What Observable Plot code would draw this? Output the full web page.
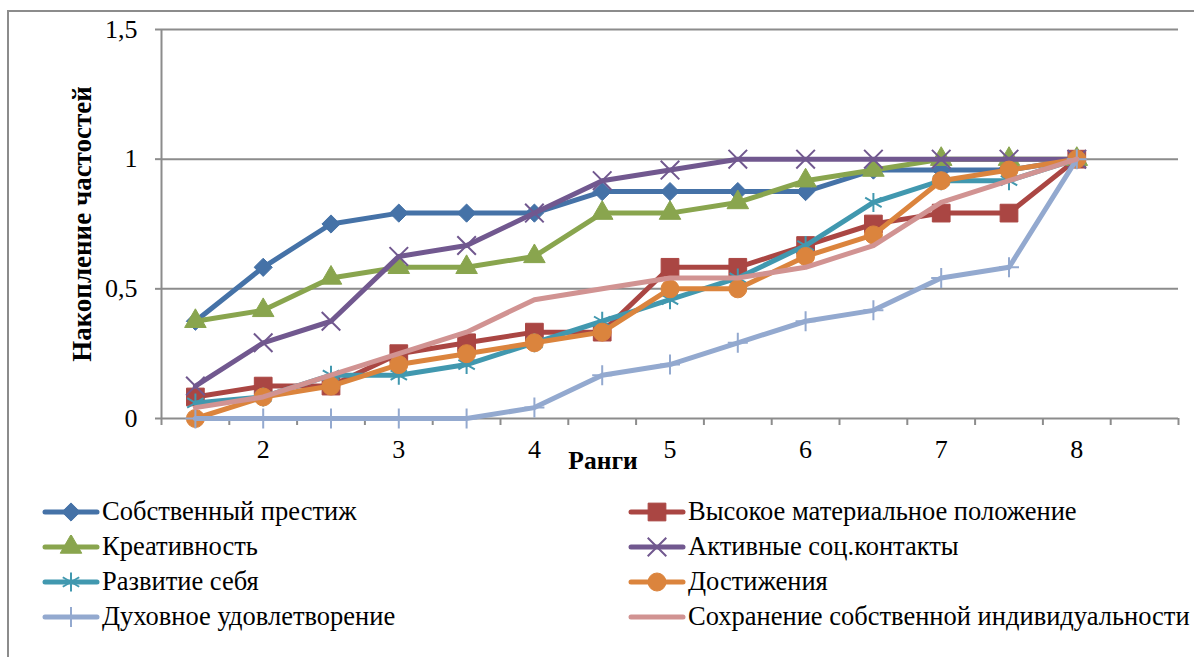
<!DOCTYPE html>
<html>
<head>
<meta charset="utf-8">
<script src="https://cdn.jsdelivr.net/npm/d3@7"></script>
<script src="https://cdn.jsdelivr.net/npm/@observablehq/plot@0.6"></script>
<style>
  html, body { margin: 0; padding: 0; background: #fff; overflow: hidden; }
  #wrap { position: relative; width: 1194px; height: 657px; font-family: "Liberation Serif", "Times New Roman", serif; }
  #frame { position: absolute; left: 7px; top: 10px; width: 1300px; height: 800px; border: 2px solid #8c8c8c; box-sizing: border-box; pointer-events: none; }
  #chart { position: absolute; left: 0; top: 0; }
  #legend { position: absolute; left: 0; top: 494px; width: 1194px; }
  .item { position: absolute; display: flex; align-items: center; height: 35px; font-size: 26.5px; color: #000; white-space: nowrap; }
  .item svg { margin-right: 1px; }
</style>
</head>
<body>
<div id="wrap">
  <div id="frame"></div>
  <div id="chart"></div>
  <div id="legend"></div>
</div>
<script>
// ---- data ----
const ranks = [1.5, 2, 2.5, 3, 3.5, 4, 4.5, 5, 5.5, 6, 6.5, 7, 7.5, 8];
const xTickLabels = [2, 3, 4, 5, 6, 7, 8];
const yTickValues = [0, 0.5, 1, 1.5];

const seriesNames = [
  "Собственный престиж",
  "Высокое материальное положение",
  "Креативность",
  "Активные соц.контакты",
  "Развитие себя",
  "Достижения",
  "Духовное удовлетворение",
  "Сохранение собственной индивидуальности"
];
const prestige      = [0.375, 0.583, 0.75, 0.792, 0.792, 0.792, 0.875, 0.875, 0.875, 0.875, 0.958, 0.958, 0.958, 1];
const material      = [0.083, 0.125, 0.125, 0.25, 0.292, 0.333, 0.333, 0.583, 0.583, 0.667, 0.75, 0.792, 0.792, 1];
const creativity    = [0.375, 0.417, 0.542, 0.583, 0.583, 0.625, 0.792, 0.792, 0.833, 0.917, 0.958, 1, 1, 1];
const social        = [0.125, 0.292, 0.375, 0.625, 0.667, 0.792, 0.917, 0.958, 1, 1, 1, 1, 1, 1];
const development   = [0.06, 0.083, 0.167, 0.167, 0.208, 0.292, 0.375, 0.458, 0.542, 0.667, 0.833, 0.917, 0.917, 1];
const achievement   = [0, 0.083, 0.125, 0.208, 0.25, 0.292, 0.333, 0.5, 0.5, 0.625, 0.708, 0.917, 0.958, 1];
const spiritual     = [0, 0, 0, 0, 0, 0.042, 0.167, 0.208, 0.292, 0.375, 0.417, 0.542, 0.583, 1];
const individuality = [0.042, 0.083, 0.167, 0.25, 0.333, 0.458, 0.5, 0.542, 0.542, 0.583, 0.667, 0.833, 0.917, 1];
const seriesValues = [prestige, material, creativity, social, development, achievement, spiritual, individuality];

// ---- styles ----
const colors = ["#4572A7", "#AA4643", "#89A54E", "#71588F", "#4198AF", "#DB843D", "#93A9CF", "#D19392"];
const markers = [
  {symbol: "diamond2", r: 8.2, fill: true},
  {symbol: "square", r: 10, fill: true},
  {symbol: "triangle", r: 8, fill: true},
  {symbol: "times", r: 8.5, fill: false},
  {symbol: "asterisk", r: 9, fill: false},
  {symbol: "circle", r: 9, fill: true},
  {symbol: "plus", r: 6.5, fill: false},
  null
];

const rows = [];
seriesNames.forEach((name, i) => {
  seriesValues[i].forEach((v, j) => rows.push({series: name, rank: ranks[j], value: v}));
});

const FONT = "'Liberation Serif', 'Times New Roman', serif";
const W = 1194, H = 480;
const boundaries = d3.range(1.25, 8.76, 0.5);

const marks = [
  Plot.gridY(yTickValues.filter(d => d > 0), {stroke: "#8c8c8c", strokeOpacity: 1, strokeWidth: 2}),
  Plot.ruleX([1.25], {stroke: "#8c8c8c", strokeWidth: 2}),
  Plot.ruleY([0], {stroke: "#8c8c8c", strokeWidth: 2}),
  Plot.axisY({ticks: yTickValues, tickSize: 6, tickPadding: 18, tickFormat: d => String(d).replace(".", ","), stroke: "#8c8c8c", strokeWidth: 2, fontSize: 26, label: null}),
  Plot.axisX({ticks: boundaries, tickSize: 7, tickFormat: () => "", stroke: "#8c8c8c", strokeWidth: 2, label: null}),
  Plot.axisX({ticks: xTickLabels, tickSize: 0, tickPadding: 21, tickFormat: d => String(d), fontSize: 26, label: null}),
  Plot.text(["Накопление частостей"], {frameAnchor: "left", textAnchor: "middle", dx: -79, rotate: -90, fontSize: 27, fontWeight: "bold", fill: "#000"}),
  Plot.text(["Ранги"], {frameAnchor: "bottom", dx: -67, dy: 50, fontSize: 25.5, fontWeight: "bold", fill: "#000"})
];

seriesNames.forEach((name, i) => {
  const data = rows.filter(d => d.series === name);
  marks.push(Plot.line(data, {x: "rank", y: "value", stroke: "series", strokeWidth: 5, strokeLinejoin: "round", strokeLinecap: "round"}));
  const m = markers[i];
  if (m) {
    marks.push(Plot.dot(data, {
      x: "rank", y: "value", symbol: () => m.symbol, r: m.r,
      fill: m.fill ? "series" : "none", stroke: "series",
      strokeWidth: m.fill ? 1 : 2
    }));
  }
});

const chart = Plot.plot({
  width: W, height: H,
  marginLeft: 161, marginRight: 16, marginTop: 29, marginBottom: 62,
  style: {fontFamily: FONT, background: "transparent", color: "#000"},
  x: {domain: [1.25, 8.75], axis: null},
  y: {domain: [0, 1.5], axis: null},
  color: {domain: seriesNames, range: colors},
  symbol: {domain: ["diamond2","square","triangle","times","asterisk","circle","plus"], range: ["diamond2","square","triangle","times","asterisk","circle","plus"]},
  marks
});
document.getElementById("chart").appendChild(chart);

// ---- legend ----
const legend = document.getElementById("legend");
const symbolMap = {diamond2: d3.symbolDiamond2, square: d3.symbolSquare, triangle: d3.symbolTriangle, times: d3.symbolTimes, asterisk: d3.symbolAsterisk, circle: d3.symbolCircle, plus: d3.symbolPlus};
const colLeft = [41, 627];
seriesNames.forEach((name, i) => {
  const col = i % 2, row = Math.floor(i / 2);
  const item = document.createElement("div");
  item.className = "item";
  item.style.left = colLeft[col] + "px";
  item.style.top = (row * 35) + "px";
  const m = markers[i];
  let sym = "";
  if (m) {
    const path = d3.symbol(symbolMap[m.symbol], Math.PI * m.r * m.r)();
    sym = `<path transform="translate(30,12)" d="${path}" fill="${m.fill ? colors[i] : "none"}" stroke="${colors[i]}" stroke-width="${m.fill ? 1 : 2}"/>`;
  }
  item.innerHTML = `<svg width="60" height="24"><line x1="4" y1="12" x2="56" y2="12" stroke="${colors[i]}" stroke-width="5" stroke-linecap="round"/>${sym}</svg><span>${name}</span>`;
  legend.appendChild(item);
});
</script>
</body>
</html>
